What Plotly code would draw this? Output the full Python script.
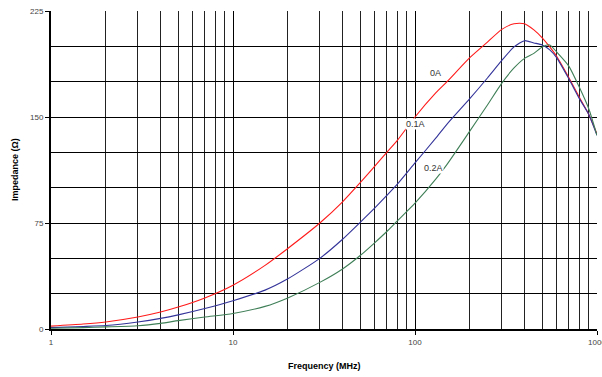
import math
import plotly.graph_objects as go

# Frequency sweep (MHz) shared by all three bias currents
freq_mhz = [1, 1.5, 2, 3, 4, 5, 7, 10, 15, 20, 30, 40, 50, 60, 70, 80, 100, 130, 150,
            200, 250, 300, 350, 400, 450, 500, 550, 600, 700, 800, 900, 1000]

# Impedance (ohm) at each bias current
z_0a = [2, 3.5, 5, 8.5, 12, 15.5, 22, 31, 45, 57, 75, 90, 103.5, 115, 125, 133.5, 150, 167, 175,
        192, 203, 212, 216, 216, 211.6, 206, 199.6, 193, 178, 164, 152, 138]
z_01a = [1, 1.8, 2.5, 5, 7.5, 10, 14.5, 20, 27.5, 35.5, 50, 63.5, 75.5, 85.5, 94.5, 102.5, 117.5, 135, 145,
         163, 177.6, 190, 199.6, 204, 202.4, 201, 197.5, 192, 177, 163, 152, 137]
z_02a = [0.5, 1, 1.5, 2.3, 4, 5.9, 8.5, 11, 16, 22, 33, 42.5, 52, 61, 69, 76.5, 89, 106, 116.5,
         140, 158.5, 174, 184.7, 191.5, 195, 199.5, 201, 196, 186, 171, 156, 137]

series = [("0A", z_0a, "#ff1a1a"), ("0.1A", z_01a, "#33339a"), ("0.2A", z_02a, "#3f7f57")]

# Curve labels (text, frequency in MHz, impedance)
labels = [("0A", 129, 181), ("0.1A", 101, 145), ("0.2A", 127, 114)]

x_major = [1, 10, 100, 1000]
x_minor = [m * d for d in (1, 10, 100) for m in range(2, 10)]
y_major = [0, 75, 150, 225]

fig = go.Figure()
for name, vals, color in series:
    fig.add_trace(go.Scatter(x=freq_mhz, y=vals, mode="lines", name=name,
                             line=dict(color=color, width=1.1, shape="spline", smoothing=0.6),
                             showlegend=False))

# annotation x on a log axis is given in log10 units
for text, fx, fy in labels:
    fig.add_annotation(x=math.log10(fx), y=fy, xref="x", yref="y", text=text, showarrow=False,
                       font=dict(family="Liberation Sans, Arial", size=9, color="#333333"),
                       bgcolor="white", borderpad=0)

tick_font = dict(family="Liberation Sans, Arial", size=8, color="#444444")

fig.update_xaxes(type="log", range=[0, 3], tickvals=x_major, ticktext=[str(v) for v in x_major],
                 ticks="outside", ticklen=4, tickcolor="black", tickwidth=1,
                 showgrid=True, gridcolor="black", gridwidth=1,
                 minor=dict(tickvals=x_minor, showgrid=True, gridcolor="#222222", gridwidth=1, ticks=""),
                 showline=True, linecolor="black", linewidth=2, mirror=False,
                 tickfont=tick_font, zeroline=False, ticklabeloverflow="allow",
                 automargin=False)
fig.update_yaxes(range=[0, 225], tickvals=y_major, ticks="outside", ticklen=4,
                 tickcolor="black", tickwidth=1,
                 showgrid=True, gridcolor="black", gridwidth=1,
                 minor=dict(dtick=25, showgrid=True, gridcolor="black", gridwidth=1, ticks=""),
                 showline=True, linecolor="black", linewidth=2,
                 tickfont=tick_font, zeroline=False, automargin=False)

title_font = dict(family="Liberation Sans, Arial", size=9, color="black")
fig.add_annotation(xref="paper", yref="paper", x=0.5, y=0, yanchor="top", yshift=-30,
                   text="<b>Frequency (MHz)</b>", showarrow=False, font=title_font)
fig.add_annotation(xref="paper", yref="paper", x=0, y=0.5, xanchor="center", xshift=-36,
                   text="<b>Impedance (Ω)</b>", textangle=-90, showarrow=False, font=title_font)

fig.update_layout(width=602, height=377,
                  margin=dict(l=51, r=5, t=11, b=48, autoexpand=False),
                  plot_bgcolor="white", paper_bgcolor="white")

fig.write_html("out.html")
